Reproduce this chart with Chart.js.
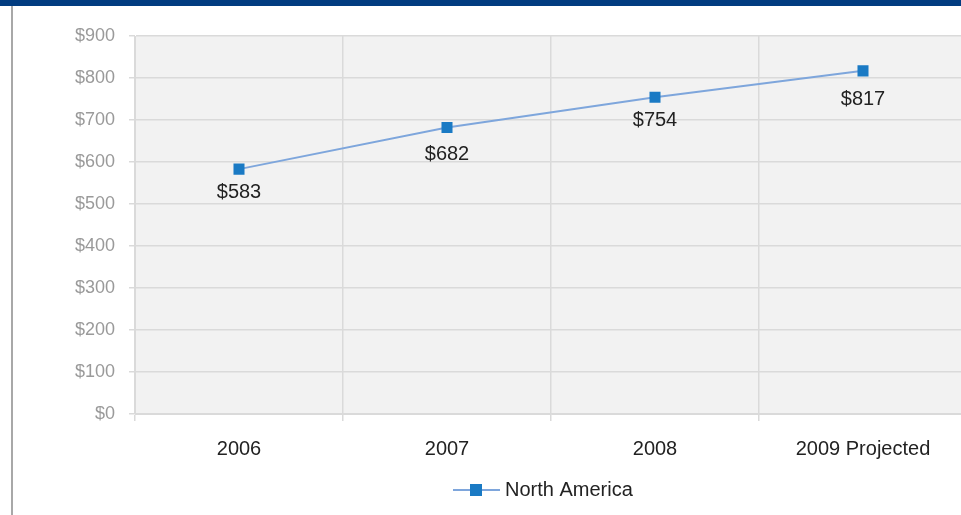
<!DOCTYPE html>
<html>
<head>
<meta charset="utf-8">
<script src="https://cdn.jsdelivr.net/npm/chart.js@4/dist/chart.umd.min.js"></script>
<style>
  html, body { margin: 0; padding: 0; background: #fff; }
  body { width: 961px; height: 515px; overflow: hidden; position: relative; }
  #topbar { position: absolute; left: 0; top: 0; width: 961px; height: 6px; background: #023c80; }
  #edge { position: absolute; left: 11px; top: 6px; width: 2px; height: 509px; background: #a8a8a8; }
  #wrap { position: absolute; left: 0; top: 0; width: 1090px; height: 515px; }
</style>
</head>
<body>
<div id="topbar"></div>
<div id="edge"></div>
<div id="wrap"><canvas id="chart"></canvas></div>
<script>
// values
const years = ['2006', '2007', '2008', '2009 Projected']
const northAmerica = [583, 682, 754, 817]
const seriesName = 'North America'

const lineColor = '#7ea6dc'
const markerColor = '#1a7ac4'
const gridColor = '#dadada'
const font = "'Liberation Sans', Arial, sans-serif"

// grey plot background
const plotBg = {
  id: 'plotBg',
  beforeDraw(chart) {
    const {ctx, chartArea: a} = chart
    ctx.save()
    ctx.fillStyle = '#f2f2f2'
    ctx.fillRect(a.left, a.top, a.right - a.left, a.bottom - a.top)
    ctx.restore()
  }
}

// "$583" etc under each marker (nudged down a bit where the line passes close)
const labelGap = [23, 27, 23, 29]
const valueLabels = {
  id: 'valueLabels',
  afterDatasetsDraw(chart) {
    const ctx = chart.ctx
    const meta = chart.getDatasetMeta(0)
    ctx.save()
    ctx.font = '20px ' + font
    ctx.fillStyle = '#222'
    ctx.textAlign = 'center'
    ctx.textBaseline = 'middle'
    meta.data.forEach((pt, i) => {
      ctx.fillText('$' + northAmerica[i], pt.x, pt.y + labelGap[i])
    })
    ctx.restore()
  }
}

// legend: line with a square through it, then the name
const lineLegend = {
  id: 'lineLegend',
  afterDraw(chart) {
    const ctx = chart.ctx
    const cx = chart.width / 2
    const y = 490
    ctx.save()
    ctx.strokeStyle = lineColor
    ctx.lineWidth = 2
    ctx.beginPath()
    ctx.moveTo(cx - 92, y)
    ctx.lineTo(cx - 45, y)
    ctx.stroke()
    ctx.fillStyle = markerColor
    ctx.fillRect(cx - 75, y - 6, 12, 12)
    ctx.font = '20px ' + font
    ctx.fillStyle = '#222'
    ctx.textAlign = 'left'
    ctx.textBaseline = 'middle'
    ctx.fillText(seriesName, cx - 40, y)
    ctx.restore()
  }
}

new Chart(document.getElementById('chart'), {
  type: 'line',
  data: {
    labels: years,
    datasets: [{
      label: seriesName,
      data: northAmerica,
      borderColor: lineColor,
      borderWidth: 2,
      pointStyle: 'rect',
      pointRadius: 7.8,
      pointHoverRadius: 7.8,
      pointBackgroundColor: markerColor,
      pointBorderColor: markerColor,
      pointBorderWidth: 0,
      tension: 0
    }]
  },
  options: {
    responsive: true,
    maintainAspectRatio: false,
    animation: false,
    layout: { padding: { top: 36, left: 0, right: 123, bottom: 41 } },
    plugins: {
      legend: { display: false },
      tooltip: { enabled: false }
    },
    scales: {
      x: {
        offset: true,
        grid: { offset: true, color: gridColor, lineWidth: 1.5, tickLength: 7 },
        border: { color: gridColor },
        ticks: { color: '#222', font: { family: font, size: 20 }, padding: 16, maxRotation: 0 },
        afterFit(scale) { scale.height = 60 }
      },
      y: {
        min: 0,
        max: 900,
        ticks: {
          stepSize: 100,
          color: '#9a9a9a',
          font: { family: font, size: 18 },
          padding: 14,
          callback: v => '$' + v
        },
        grid: { color: gridColor, lineWidth: 1.5, tickLength: 6 },
        border: { color: gridColor },
        afterFit(scale) { scale.width = 135 }
      }
    }
  },
  plugins: [plotBg, valueLabels, lineLegend]
})
</script>
</body>
</html>
